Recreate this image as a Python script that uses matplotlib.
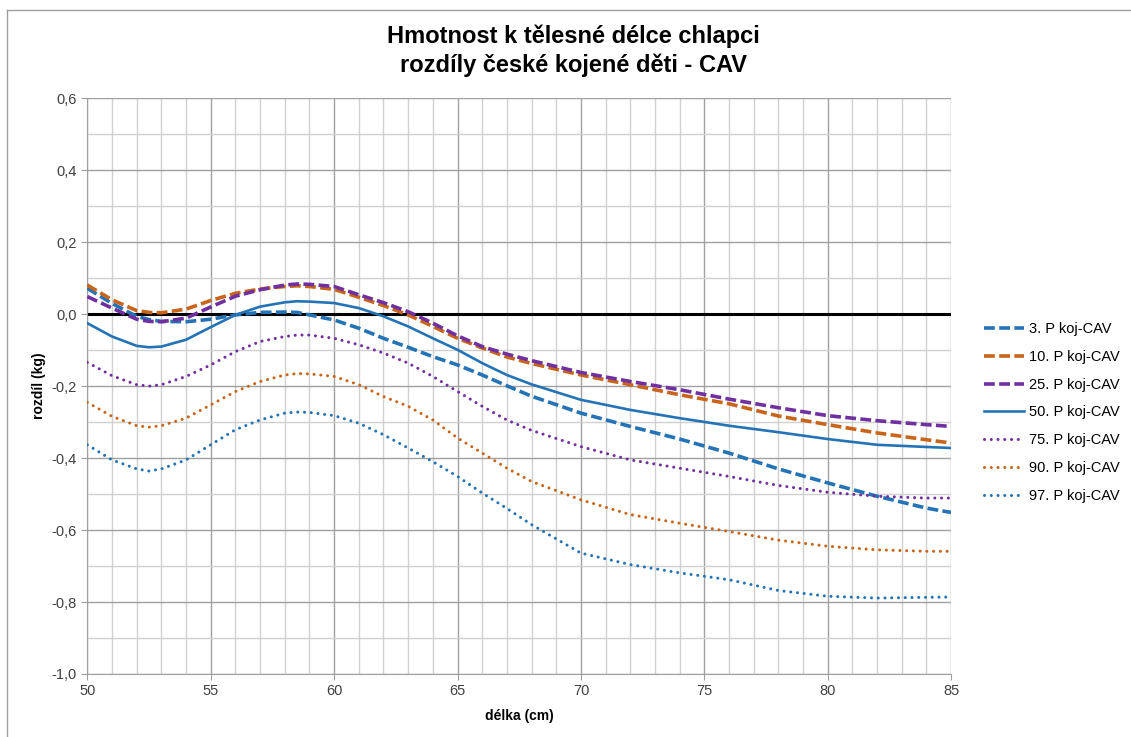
import matplotlib
matplotlib.use("Agg")
import matplotlib.pyplot as plt
from matplotlib.ticker import MultipleLocator, FuncFormatter
from matplotlib.lines import Line2D

plt.rcParams['font.family'] = ['Liberation Sans', 'DejaVu Sans']

# délka (cm)
x = [50, 51, 52, 52.5, 53, 54, 55, 56, 57, 58, 58.5, 59, 60, 61, 62, 63, 64, 65, 66, 67, 68,
     70, 72, 74, 76, 78, 80, 82, 84, 85]

p3 = [0.072, 0.030, -0.006, -0.015, -0.020, -0.021, -0.014, -0.002, 0.005, 0.006, 0.005, -0.002,
      -0.016, -0.039, -0.067, -0.092, -0.118, -0.141, -0.169, -0.199, -0.228,
      -0.275, -0.312, -0.347, -0.386, -0.430, -0.469, -0.506, -0.539, -0.551]
p10 = [0.081, 0.040, 0.010, 0.005, 0.004, 0.014, 0.038, 0.058, 0.070, 0.077, 0.079, 0.077,
       0.069, 0.047, 0.024, -0.002, -0.034, -0.067, -0.094, -0.119, -0.137,
       -0.169, -0.196, -0.224, -0.249, -0.283, -0.307, -0.330, -0.349, -0.358]
p25 = [0.049, 0.017, -0.014, -0.020, -0.021, -0.011, 0.020, 0.050, 0.068, 0.081, 0.084, 0.083,
       0.077, 0.054, 0.032, 0.007, -0.025, -0.060, -0.090, -0.111, -0.129,
       -0.162, -0.187, -0.210, -0.236, -0.260, -0.282, -0.296, -0.307, -0.312]
p50 = [-0.025, -0.062, -0.088, -0.092, -0.090, -0.071, -0.036, -0.002, 0.021, 0.033, 0.036, 0.035,
       0.031, 0.017, -0.006, -0.034, -0.067, -0.099, -0.136, -0.169, -0.195,
       -0.238, -0.266, -0.289, -0.310, -0.328, -0.347, -0.363, -0.369, -0.372]
p75 = [-0.134, -0.171, -0.196, -0.200, -0.196, -0.173, -0.141, -0.104, -0.076, -0.062, -0.058, -0.058,
       -0.067, -0.085, -0.108, -0.136, -0.173, -0.215, -0.256, -0.294, -0.323,
       -0.368, -0.405, -0.428, -0.451, -0.476, -0.495, -0.506, -0.511, -0.511]
p90 = [-0.245, -0.284, -0.310, -0.314, -0.310, -0.289, -0.252, -0.215, -0.187, -0.169, -0.165, -0.166,
       -0.173, -0.196, -0.229, -0.256, -0.294, -0.344, -0.386, -0.428, -0.465,
       -0.516, -0.557, -0.581, -0.604, -0.628, -0.645, -0.655, -0.659, -0.659]
p97 = [-0.363, -0.405, -0.430, -0.436, -0.430, -0.405, -0.363, -0.321, -0.294, -0.275, -0.272, -0.273,
       -0.282, -0.303, -0.335, -0.372, -0.410, -0.451, -0.497, -0.540, -0.585,
       -0.664, -0.696, -0.719, -0.738, -0.768, -0.784, -0.789, -0.787, -0.786]

labels = ["3. P koj-CAV", "10. P koj-CAV", "25. P koj-CAV", "50. P koj-CAV",
          "75. P koj-CAV", "90. P koj-CAV", "97. P koj-CAV"]

blue = '#2473b6'
orange = '#c8651b'
purple = '#7030a0'

dash = (0, (3, 1.2))
dot = (0, (0.01, 2.2))
series = [(p3, blue, dash, 2.6), (p10, orange, dash, 2.6), (p25, purple, dash, 2.6),
          (p50, blue, '-', 1.9), (p75, purple, dot, 2.2), (p90, orange, dot, 2.2),
          (p97, blue, dot, 2.2)]

fig = plt.figure(figsize=(11.31, 7.37), dpi=100)
ax = fig.add_axes([0.0772, 0.0855, 0.7638, 0.7811])

ax.set_xlim(50, 85)
ax.set_ylim(-1.0, 0.6)
ax.xaxis.set_major_locator(MultipleLocator(5))
ax.xaxis.set_minor_locator(MultipleLocator(1))
ax.yaxis.set_major_locator(MultipleLocator(0.2))
ax.yaxis.set_minor_locator(MultipleLocator(0.1))
ax.yaxis.set_major_formatter(FuncFormatter(lambda v, p: ('%.1f' % v).replace('.', ',').replace('-0,0', '0,0')))
ax.grid(which='major', color='#a0a0a0', lw=1.0)
ax.grid(which='minor', color='#d0d0d0', lw=1.0)
ax.set_axisbelow(True)
for s in ['top', 'right']:
    ax.spines[s].set_visible(False)
for s in ['left', 'bottom']:
    ax.spines[s].set_color('#a0a0a0')
ax.tick_params(which='major', length=4, color='#a0a0a0', labelsize=10.5, labelcolor='#404040')
ax.tick_params(which='minor', length=0)
ax.tick_params(axis='x', pad=3)

ax.axhline(0, color='black', lw=2.2, zorder=2)

handles = []
for (vals, c, ls, lw), lab in zip(series, labels):
    ln, = ax.plot(x, vals, color=c, linestyle=ls, lw=lw, label=lab, zorder=3,
                  solid_joinstyle='round',
                  dash_capstyle='round' if ls == dot else 'butt')
    handles.append(ln)

ax.set_xlabel('délka (cm)', fontsize=10, fontweight='bold', labelpad=8)
ax.set_ylabel('rozdíl (kg)', fontsize=10, fontweight='bold', labelpad=4)

fig.text(0.507, 0.951, 'Hmotnost k tělesné délce chlapci', ha='center', va='center',
         fontsize=17, fontweight='bold')
fig.text(0.507, 0.912, 'rozdíly české kojené děti - CAV', ha='center', va='center',
         fontsize=17, fontweight='bold')

ax.legend(handles=handles, loc='upper left', bbox_to_anchor=(0.858, 0.581),
          bbox_transform=fig.transFigure, frameon=False, fontsize=10.5,
          handlelength=2.8, handletextpad=0.3, labelspacing=0.95)

# chart area border
fig.add_artist(Line2D([0.006, 0.006], [0, 0.986], transform=fig.transFigure, color='#a0a0a0', lw=1))
fig.add_artist(Line2D([0.006, 1], [0.986, 0.986], transform=fig.transFigure, color='#a0a0a0', lw=1))

fig.savefig('out.png', dpi=100)
